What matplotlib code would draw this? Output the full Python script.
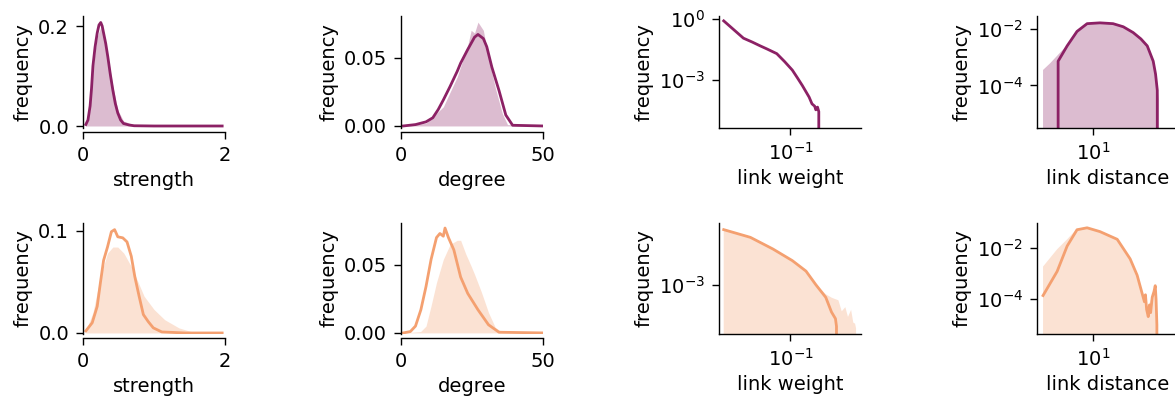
import numpy as np
import matplotlib.pyplot as plt
from matplotlib.ticker import NullLocator

plt.rcParams['font.size'] = 14
plt.rcParams['axes.linewidth'] = 1.0

purple = '#8c2165'
orange = '#f4a070'

# strength, top row (line = data, fill = null model)
s1_line_x = [0.04, 0.07, 0.10, 0.12, 0.14, 0.17, 0.20, 0.225, 0.25, 0.27, 0.29, 0.32, 0.35, 0.385,
             0.42, 0.455, 0.49, 0.53, 0.57, 0.65, 0.72, 1.00, 1.50, 1.96]
s1_line_y = [0.003, 0.012, 0.040, 0.075, 0.120, 0.158, 0.186, 0.202, 0.207, 0.200, 0.186, 0.165, 0.138,
             0.103, 0.072, 0.045, 0.026, 0.012, 0.005, 0.002, 0.0005, 0.0, 0.0, 0.0]
s1_null_x = [0.04, 0.07, 0.10, 0.14, 0.17, 0.20, 0.25, 0.29, 0.35, 0.42, 0.49, 0.57, 0.72, 0.90, 1.20, 1.96]
s1_null_y = [0.003, 0.011, 0.035, 0.110, 0.150, 0.178, 0.198, 0.182, 0.140, 0.080, 0.032, 0.010, 0.002,
             0.0004, 0.0, 0.0]

# strength, bottom row
s2_line_x = [0.04, 0.13, 0.20, 0.245, 0.29, 0.345, 0.40, 0.445, 0.49, 0.56, 0.62, 0.68, 0.73, 0.79,
             0.85, 0.92, 0.99, 1.11, 1.44, 1.96]
s2_line_y = [0.002, 0.010, 0.026, 0.049, 0.071, 0.084, 0.099, 0.101, 0.094, 0.093, 0.089, 0.075, 0.055,
             0.036, 0.018, 0.011, 0.005, 0.001, 0.0, 0.0]
s2_null_x = [0.04, 0.14, 0.245, 0.345, 0.42, 0.49, 0.575, 0.68, 0.78, 0.86, 1.00, 1.15, 1.35, 1.54, 1.75, 1.96]
s2_null_y = [0.002, 0.020, 0.055, 0.078, 0.084, 0.084, 0.078, 0.065, 0.049, 0.036, 0.023, 0.013, 0.005,
             0.001, 0.0, 0.0]

# degree
d1_line_x = [0.85, 5.1, 8.8, 11.2, 13.1, 14.9, 17.3, 19.8, 21.0, 23.5, 25.9, 27.1, 29.0, 30.2, 32.0,
             34.5, 36.9, 39.3, 49.7]
d1_line_y = [0.0, 0.001, 0.003, 0.006, 0.012, 0.019, 0.029, 0.040, 0.046, 0.056, 0.065, 0.067, 0.064,
             0.058, 0.043, 0.026, 0.008, 0.0005, 0.0]
d1_null_x = [0.85, 8.8, 14.9, 19.8, 23.5, 24.7, 25.9, 27.1, 29.0, 30.8, 33.2, 35.7, 37.5, 49.7]
d1_null_y = [0.0, 0.002, 0.014, 0.036, 0.059, 0.070, 0.068, 0.076, 0.070, 0.050, 0.028, 0.009, 0.001, 0.0]

d2_line_x = [0.85, 3.3, 5.1, 7.0, 8.8, 10.6, 12.5, 13.7, 14.9, 15.5, 16.7, 18.6, 21.0, 23.5, 27.1,
             30.8, 34.5, 49.7]
d2_line_y = [0.0, 0.001, 0.005, 0.017, 0.034, 0.054, 0.070, 0.073, 0.071, 0.077, 0.070, 0.061, 0.041,
             0.029, 0.017, 0.006, 0.0005, 0.0]
d2_null_x = [0.85, 6.9, 8.8, 10.6, 12.5, 14.9, 17.3, 19.8, 21.0, 22.8, 24.7, 25.9, 28.3, 30.8, 33.2,
             35.7, 49.7]
d2_null_y = [0.0, 0.001, 0.005, 0.020, 0.037, 0.054, 0.065, 0.068, 0.068, 0.058, 0.049, 0.043, 0.030,
             0.015, 0.004, 0.0005, 0.0]

# link weight
w1_line_x = [0.017, 0.0287, 0.0363, 0.0447, 0.0536, 0.0695, 0.0855, 0.105, 0.12, 0.137, 0.164, 0.177,
             0.190, 0.196, 0.205, 0.212, 0.213]
w1_line_y = [0.80, 0.112, 0.072, 0.047, 0.033, 0.0194, 0.0079, 0.003, 0.00126, 5.2e-4, 1.4e-4, 6.5e-5,
             5.0e-5, 3.3e-5, 4.5e-5, 2.7e-5, 0]

w2_line_x = [0.017, 0.0345, 0.0627, 0.105, 0.151, 0.196, 0.255, 0.297, 0.33, 0.339, 0.347]
w2_line_y = [5.75e-3, 4.5e-3, 3.11e-3, 2.15e-3, 1.54e-3, 1.0e-3, 6.7e-4, 4.2e-4, 3.4e-4, 2.67e-4, 0]
w2_null_x = [0.017, 0.0345, 0.0627, 0.105, 0.151, 0.196, 0.255, 0.30, 0.357, 0.39, 0.429, 0.46,
             0.50, 0.53, 0.556, 0.57]
w2_null_y = [5.9e-3, 4.6e-3, 3.15e-3, 2.2e-3, 1.56e-3, 1.02e-3, 7.4e-4, 6.6e-4, 6.1e-4, 4.3e-4,
             4.9e-4, 3.6e-4, 4.5e-4, 3.0e-4, 2.9e-4, 2.5e-4]

# link distance
l1_line_x = [4.47, 4.47, 5.5, 6.9, 8.7, 11.7, 15.8, 20.0, 25.1, 30.0, 34.7, 39.8, 42.0, 43.7, 44.7]
l1_line_y = [0, 7.1e-4, 2.45e-3, 7.9e-3, 0.0148, 0.0158, 0.0148, 0.0115, 7.2e-3, 4.3e-3, 2.45e-3,
             7.1e-4, 2.5e-4, 6.8e-5, 0]
l1_null_x = [3.16, 3.72, 4.47, 5.5, 6.9, 8.7, 11.7, 15.8, 20.0, 25.1, 30.0, 34.7, 39.8, 43.7, 45.5, 46.8]
l1_null_y = [3.5e-4, 6e-4, 1.2e-3, 2.6e-3, 8.0e-3, 0.015, 0.016, 0.015, 0.0117, 7.3e-3, 4.4e-3,
             2.5e-3, 8e-4, 9e-5, 3e-5, 0]

l2_line_x = [3.16, 4.37, 5.5, 6.9, 8.7, 11.7, 17.4, 23.4, 27.5, 31.6, 32.5, 33.3, 34.2, 35.5, 36.5,
             37.5, 38.9, 40.5, 41.7, 42.5, 43.3, 43.7]
l2_line_y = [1.4e-4, 1.23e-3, 0.012, 0.052, 0.062, 0.044, 0.022, 3.8e-3, 8.7e-4, 1.2e-4, 8e-5, 1.5e-4,
             4e-5, 2.1e-5, 6e-5, 3e-5, 1.2e-4, 2e-4, 3.4e-4, 1e-4, 1e-5, 0]
l2_null_x = [3.16, 4.37, 5.5, 6.9, 8.7, 11.7, 17.4, 23.4, 27.5, 31.6, 34.2, 36.5, 38.9, 41.7, 43.3, 43.7]
l2_null_y = [1.9e-3, 9e-3, 0.022, 0.057, 0.064, 0.045, 0.022, 4e-3, 1e-3, 1.5e-4, 5e-5, 7e-5, 1.3e-4,
             3.6e-4, 2e-5, 0]

W, H = 1175, 403
lefts = [83, 401, 719, 1037]
rows = [(16, 128), (223, 334)]
aw = 142

fig = plt.figure(figsize=(W / 100, H / 100), dpi=100)


def make_ax(r, c):
    top, bot = rows[r]
    ax = fig.add_axes([lefts[c] / W, 1 - bot / H, aw / W, (bot - top) / H])
    ax.spines['top'].set_visible(False)
    ax.spines['right'].set_visible(False)
    ax.tick_params(length=5, width=1.0, pad=5)
    return ax


def draw(ax, lx, ly, color, nx=None, ny=None, floor=0.0):
    if nx is not None:
        ax.fill_between(nx, ny, floor, color=color, alpha=0.3, lw=0)
    ax.plot(lx, ly, color=color, lw=2)


# linear panels
lin = [
    (0, 0, s1_line_x, s1_line_y, s1_null_x, s1_null_y, purple, (0, 2), [0, 2], (-0.004, 0.22), [0, 0.2], 'strength'),
    (0, 1, d1_line_x, d1_line_y, d1_null_x, d1_null_y, purple, (0, 50), [0, 50], (-0.0015, 0.0805), [0, 0.05], 'degree'),
    (1, 0, s2_line_x, s2_line_y, s2_null_x, s2_null_y, orange, (0, 2), [0, 2], (-0.001, 0.1075), [0, 0.1], 'strength'),
    (1, 1, d2_line_x, d2_line_y, d2_null_x, d2_null_y, orange, (0, 50), [0, 50], (-0.0008, 0.0807), [0, 0.05], 'degree'),
]
for r, c, lx, ly, nx, ny, col, xl, xt, yl, yt, lab in lin:
    ax = make_ax(r, c)
    draw(ax, lx, ly, col, nx, ny)
    ax.set_xlim(*xl)
    ax.set_ylim(*yl)
    ax.set_xticks(xt)
    ax.set_yticks(yt)
    ax.spines['bottom'].set_position(('outward', 3))
    ax.set_xlabel(lab)
    ax.set_ylabel('frequency')

# log panels
logp = [
    (0, 2, w1_line_x, w1_line_y, None, None, purple, (0.015, 0.65), [0.1], (4.2e-6, 1.39), [1e0, 1e-3], 'link weight'),
    (1, 2, w2_line_x, w2_line_y, w2_null_x, w2_null_y, orange, (0.015, 0.65), [0.1], (2.09e-4, 7.1e-3), [1e-3], 'link weight'),
    (0, 3, l1_line_x, l1_line_y, l1_null_x, l1_null_y, purple, (2.75, 72), [10], (3.2e-6, 0.0275), [1e-2, 1e-4], 'link distance'),
    (1, 3, l2_line_x, l2_line_y, l2_null_x, l2_null_y, orange, (2.75, 72), [10], (4.4e-6, 0.0955), [1e-2, 1e-4], 'link distance'),
]
for r, c, lx, ly, nx, ny, col, xl, xt, yl, yt, lab in logp:
    ax = make_ax(r, c)
    ax.set_xscale('log')
    ax.set_yscale('log')
    draw(ax, lx, ly, col, nx, ny, floor=1e-12)
    ax.set_xlim(*xl)
    ax.set_ylim(*yl)
    ax.set_xticks(xt)
    ax.set_yticks(yt)
    ax.xaxis.set_minor_locator(NullLocator())
    ax.yaxis.set_minor_locator(NullLocator())
    ax.set_xlabel(lab)
    ax.set_ylabel('frequency')

fig.savefig('out.png', dpi=100)
